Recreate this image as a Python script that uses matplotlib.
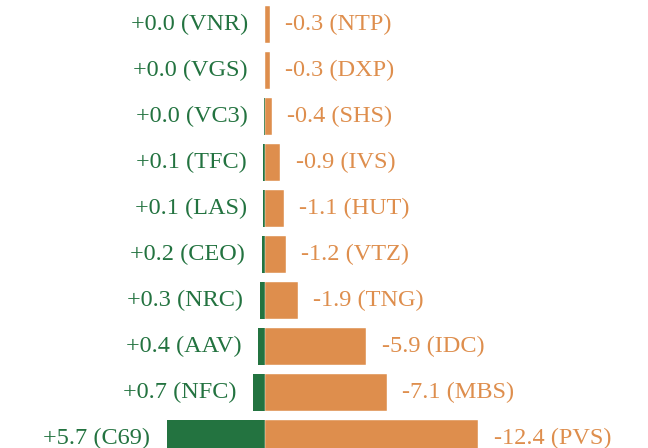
import matplotlib
matplotlib.use('Agg')
import matplotlib.pyplot as plt
import numpy as np

# Top gainers / losers, listed top row to bottom row
gain_tickers = ['VNR', 'VGS', 'VC3', 'TFC', 'LAS', 'CEO', 'NRC', 'AAV', 'NFC', 'C69']
gain_values = [0.01, 0.02, 0.04, 0.1, 0.1, 0.2, 0.3, 0.4, 0.7, 5.7]
loss_tickers = ['NTP', 'DXP', 'SHS', 'IVS', 'HUT', 'VTZ', 'TNG', 'IDC', 'MBS', 'PVS']
loss_values = [-0.3, -0.3, -0.4, -0.9, -1.1, -1.2, -1.9, -5.9, -7.1, -12.4]

green = '#237340'
orange = '#DE8E4D'

fig = plt.figure(figsize=(6.48, 4.48), dpi=100)
ax = fig.add_axes([0, 0, 1, 1])

y = np.arange(len(gain_tickers))
gains = np.array(gain_values)
losses = np.abs(np.array(loss_values))

ax.barh(y, -gains, height=0.8, color=green, linewidth=0)
ax.barh(y, losses, height=0.8, color=orange, edgecolor='white', linewidth=0.3)

font = dict(family='Liberation Serif', fontsize=17.5)
for i in range(len(y)):
    ax.annotate(f'{gains[i]:+.1f} ({gain_tickers[i]})', xy=(-gains[i], y[i]),
                xytext=(-12, 0), textcoords='offset points',
                ha='right', va='center', color=green, **font)
    ax.annotate(f'{loss_values[i]:.1f} ({loss_tickers[i]})', xy=(losses[i], y[i]),
                xytext=(11, 0), textcoords='offset points',
                ha='left', va='center', color=orange, **font)

ax.set_xlim(-15.41, 22.27)
ax.set_ylim(9.207, -0.533)
ax.axis('off')

fig.savefig('out.png', dpi=100)
